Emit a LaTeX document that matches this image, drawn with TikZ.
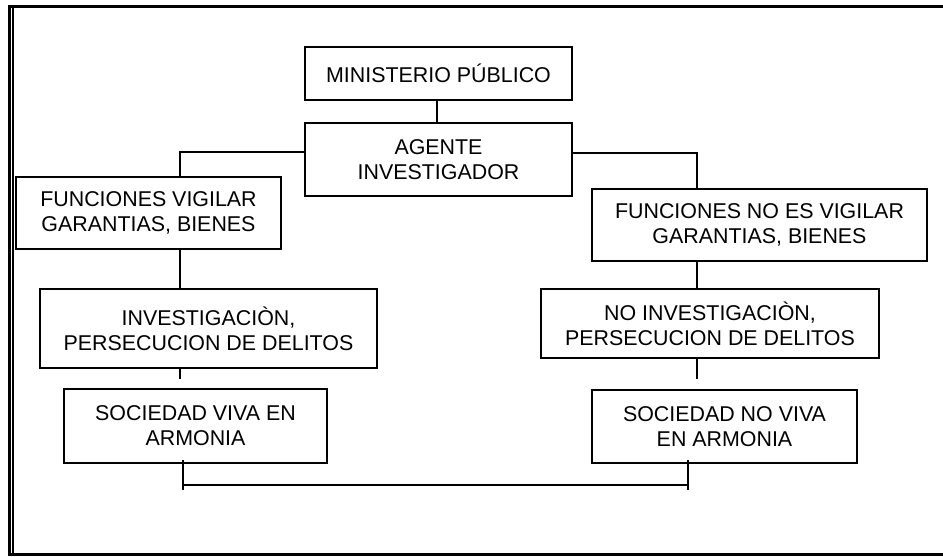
\documentclass[tikz,border=0pt]{standalone}
\usepackage{fontspec}
\setmainfont{Liberation Sans}
\begin{document}
\begin{tikzpicture}[x=1pt,y=-1pt,
  box/.style={draw=black,line width=2.2pt,rectangle,align=center,inner sep=0pt,
    font=\fontsize{21.4}{25}\selectfont},
  conn/.style={draw=black,line width=2.2pt}]
\useasboundingbox (0,0) rectangle (943,557);
% frame
\draw[line width=3pt] (8,6) -- (943,6);
\draw[line width=3pt] (8,554) -- (943,554);
\draw[line width=3pt] (9.6,5) -- (9.6,555);
\draw[line width=1.2pt] (13,7) -- (13,553);
% nodes
\node[box,minimum width=267,minimum height=53] (min) at (438.5,73.5) {MINISTERIO PÚBLICO};
\node[box,minimum width=267,minimum height=73] (age) at (438.5,159.5) {AGENTE\\INVESTIGADOR};
\node[box,minimum width=265,minimum height=72] (f1) at (148.5,213) {FUNCIONES VIGILAR\\GARANTIAS, BIENES};
\node[box,minimum width=337,minimum height=79] (i1) at (208.5,328.5) {INVESTIGACIÒN,\\PERSECUCION DE DELITOS};
\node[box,minimum width=263,minimum height=74] (s1) at (195.5,426) {SOCIEDAD VIVA EN\\ARMONIA};
\node[box,minimum width=335,minimum height=72] (f2) at (759.5,225) {FUNCIONES NO ES VIGILAR\\GARANTIAS, BIENES};
\node[box,minimum width=338,minimum height=69] (i2) at (710,323.5) {NO INVESTIGACIÒN,\\PERSECUCION DE DELITOS};
\node[box,minimum width=265,minimum height=73] (s2) at (724.5,426.5) {SOCIEDAD NO VIVA\\EN ARMONIA};
% connectors
\coordinate (g1) at (180,379);
\coordinate (g2) at (697,379);
\coordinate (b1t) at (183,460);
\coordinate (b1b) at (183,490);
\coordinate (b2t) at (688,460);
\coordinate (b2b) at (688,490);
\draw[conn] (min.south -| 437,0) -- (age.north -| 437,0);
\draw[conn] (age.west |- 0,152) -| (f1.north -| 180,0);
\draw[conn] (age.east |- 0,153) -| (f2.north -| 697,0);
\draw[conn] (f1.south -| 180,0) -- (i1.north -| 180,0);
\draw[conn] (i1.south -| 180,0) -- (g1);
\draw[conn] (f2.south -| 697,0) -- (i2.north -| 697,0);
\draw[conn] (i2.south -| 697,0) -- (g2);
\draw[conn] (b1t) -- (b1b);
\draw[conn] (b2t) -- (b2b);
\draw[conn] (b1t |- 0,485) -- (b2t |- 0,485);
\end{tikzpicture}
\end{document}
